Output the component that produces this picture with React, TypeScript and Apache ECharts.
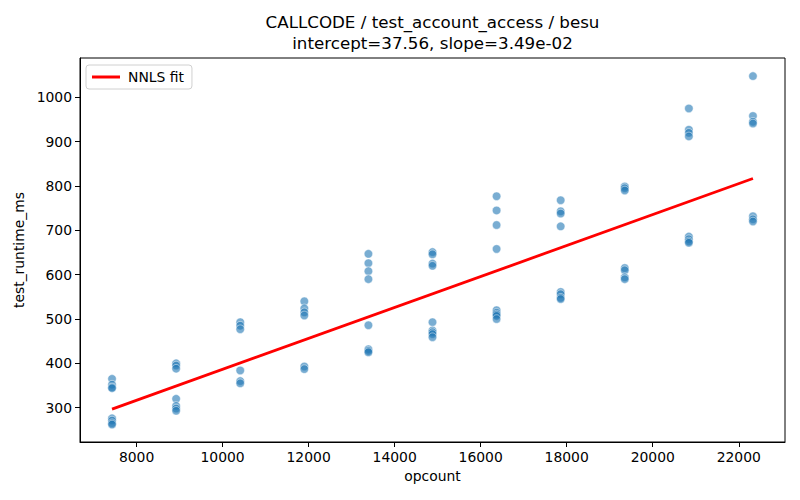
import React, { useEffect, useRef } from "react";
import * as echarts from "echarts";

const titleLines = ["CALLCODE / test_account_access / besu", "intercept=37.56, slope=3.49e-02"];
const xName = "opcount";
const yName = "test_runtime_ms";
const legendName = "NNLS fit";

const opcounts = [7430, 8920, 10410, 11900, 13390, 14880, 16370, 17860, 19350, 20840, 22330];
const runtimes: number[][] = [
  [365, 352, 346, 344, 276, 271, 265, 262],
  [400, 395, 388, 320, 304, 298, 293],
  [493, 485, 477, 384, 360, 355],
  [540, 524, 515, 508, 393, 387],
  [647, 626, 608, 590, 486, 432, 428, 425],
  [651, 646, 625, 620, 493, 474, 470, 466, 459],
  [777, 745, 712, 658, 520, 514, 510, 507, 500],
  [768, 743, 738, 709, 561, 556, 548, 545],
  [799, 795, 790, 615, 610, 594, 590],
  [975, 927, 920, 912, 686, 680, 675, 672],
  [1048, 958, 945, 941, 732, 725, 720],
];
const intercept = 37.56;
const slope = 0.0349;
const fitX = [7430, 22330];

const xTicks = [8000, 10000, 12000, 14000, 16000, 18000, 20000, 22000];
const yTicks = [300, 400, 500, 600, 700, 800, 900, 1000];
const xRange = [6685, 23075];
const yRange = [222.6, 1088.8];

export default function App() {
  const ref = useRef<HTMLDivElement>(null);
  useEffect(() => {
    if (!ref.current) return;
    const chart = echarts.init(ref.current, null, { renderer: "svg" });
    const points: number[][] = [];
    opcounts.forEach((x, i) => runtimes[i].forEach((y) => points.push([x, y])));
    const fitData = fitX.map((x) => [x, intercept + slope * x]);
    const font = "DejaVu Sans";
    const plain = (v: number) => String(v);
    chart.setOption({
      animation: false,
      textStyle: { fontFamily: font },
      grid: {
        left: 80,
        right: 15,
        top: 58,
        bottom: 58,
        show: true,
        borderColor: "#000",
        borderWidth: 1,
        backgroundColor: "transparent",
      },
      graphic: [
        {
          type: "text",
          x: 432.5,
          y: 22,
          style: {
            text: titleLines[0],
            textAlign: "center",
            textVerticalAlign: "middle",
            fontFamily: font,
            fontSize: 16.7,
            fill: "#000",
          },
        },
        {
          type: "text",
          x: 432.5,
          y: 43,
          style: {
            text: titleLines[1],
            textAlign: "center",
            textVerticalAlign: "middle",
            fontFamily: font,
            fontSize: 16.7,
            fill: "#000",
          },
        },
      ],
      legend: {
        left: 86,
        top: 65,
        data: [{ name: legendName, icon: "rect" }],
        itemWidth: 28,
        itemHeight: 3,
        itemGap: 10,
        padding: [5, 8, 5, 6],
        backgroundColor: "#fff",
        borderColor: "#d0d0d0",
        borderWidth: 1,
        borderRadius: 3,
        textStyle: { fontFamily: font, fontSize: 13.9, color: "#000", padding: [0, 0, 0, 3] },
      },
      xAxis: {
        type: "value",
        min: xRange[0],
        max: xRange[1],
        name: xName,
        nameLocation: "middle",
        nameGap: 27,
        nameTextStyle: { fontFamily: font, fontSize: 13.9, color: "#000" },
        splitLine: { show: false },
        axisLine: { show: true, onZero: false, lineStyle: { color: "#000", width: 1 } },
        axisTick: { show: true, length: 5, lineStyle: { color: "#000" }, customValues: xTicks },
        axisLabel: { fontFamily: font, fontSize: 13.9, color: "#000", margin: 8, customValues: xTicks, formatter: plain },
      },
      yAxis: {
        type: "value",
        min: yRange[0],
        max: yRange[1],
        name: yName,
        nameLocation: "middle",
        nameGap: 46,
        nameTextStyle: { fontFamily: font, fontSize: 13.9, color: "#000" },
        splitLine: { show: false },
        axisLine: { show: true, onZero: false, lineStyle: { color: "#000", width: 1 } },
        axisTick: { show: true, length: 5, lineStyle: { color: "#000" }, customValues: yTicks },
        axisLabel: { fontFamily: font, fontSize: 13.9, color: "#000", margin: 8, customValues: yTicks, formatter: plain },
      },
      series: [
        {
          type: "scatter",
          name: "points",
          data: points,
          symbolSize: 8.5,
          itemStyle: {
            color: "rgba(31,119,180,0.75)",
            borderColor: "#fff",
            borderWidth: 0.6,
          },
          z: 2,
        },
        {
          type: "line",
          name: legendName,
          data: fitData,
          showSymbol: false,
          lineStyle: { color: "#ff0000", width: 2.8 },
          itemStyle: { color: "#ff0000" },
          z: 3,
        },
      ],
    });
    return () => chart.dispose();
  }, []);
  return (
    <div
      ref={ref}
      style={{ position: "fixed", left: 0, top: 0, width: 800, height: 500, background: "#fff" }}
    />
  );
}
